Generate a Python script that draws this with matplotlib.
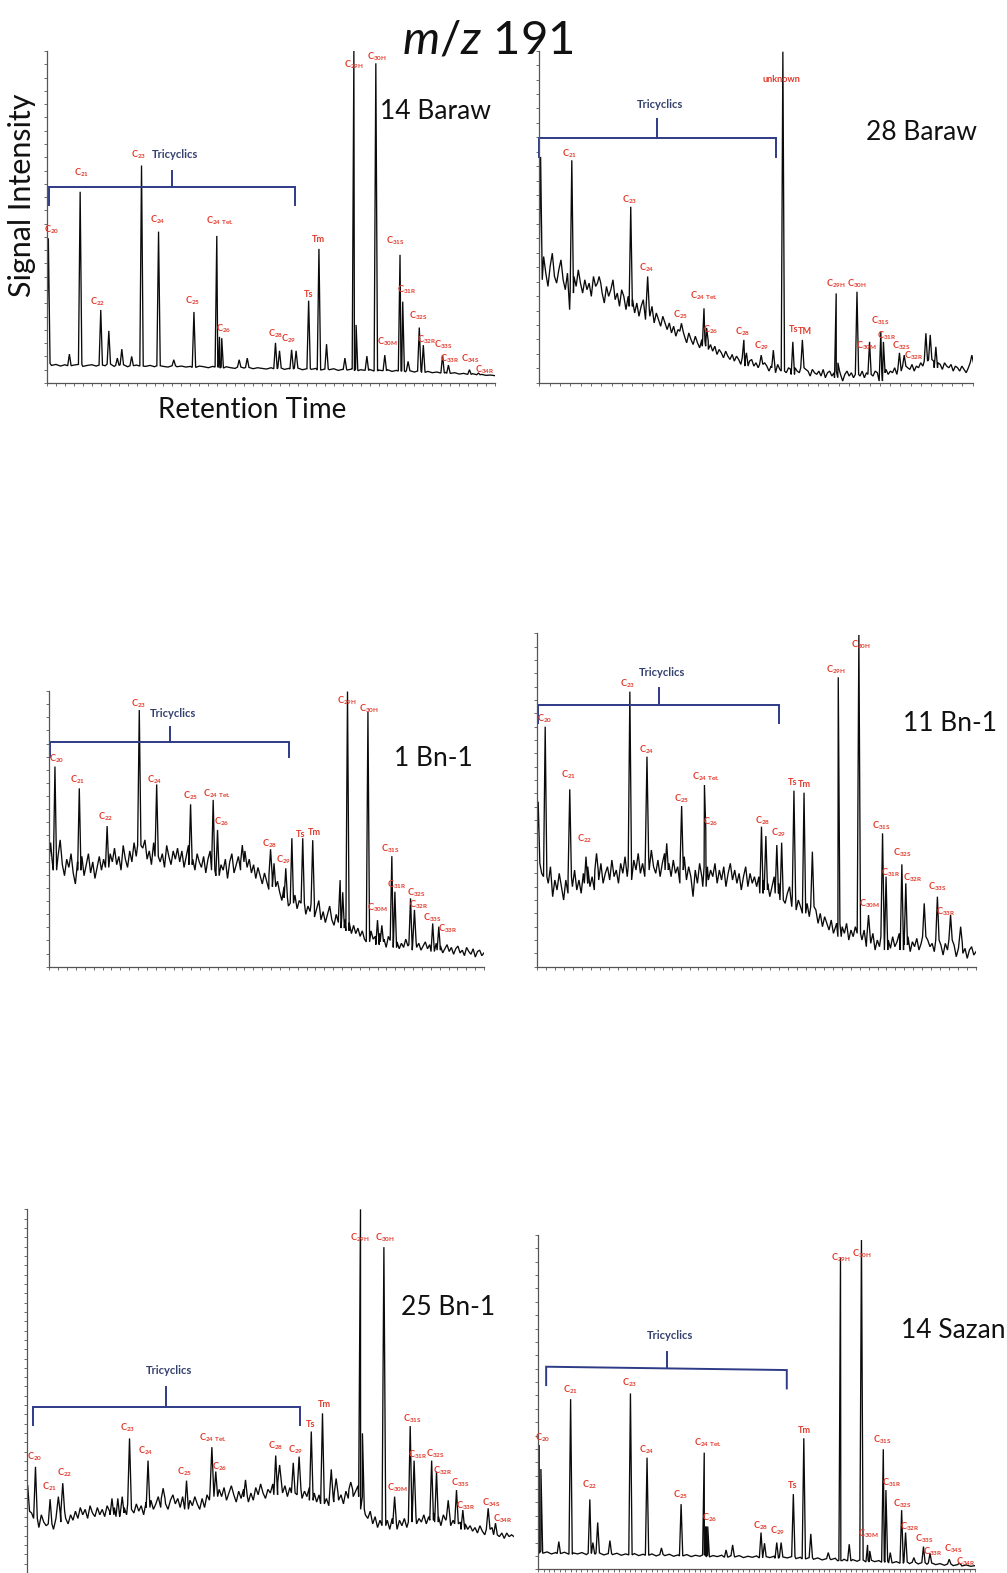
import numpy as np
import matplotlib
matplotlib.use("Agg")
import matplotlib.pyplot as plt

plt.rcParams['font.family'] = ['Lato', 'DejaVu Sans']
plt.rcParams['mathtext.fontset'] = 'custom'
plt.rcParams['mathtext.rm'] = 'Lato'
plt.rcParams['mathtext.it'] = 'Lato:italic'
plt.rcParams['mathtext.bf'] = 'Lato:bold'

W, H = 1007, 1573

# ---------------- DATA (x: retention, 0-100 of axis; y: signal, 0-100 of axis) ----------------
# Panel 1 : 14 Baraw
p1_names = ['C20', 'C21', 'C22', 'C23', 'C24', 'C25', 'C24 Tet.', 'C26', 'C28', 'C29', 'Ts', 'Tm',
            'C29H', 'C30H', 'C30M', 'C31S', 'C31R', 'C32S', 'C32R', 'C33S', 'C33R', 'C34S', 'C34R']
p1_rt = [0.3, 7.4, 12.0, 21.1, 24.9, 32.8, 37.9, 38.5, 51.0, 54.6, 58.4, 60.7,
         68.5, 73.4, 75.4, 78.8, 79.4, 83.1, 84.0, 88.3, 89.6, 94.3, 96.3]
p1_top = [43.6, 57.6, 22.0, 65.5, 45.6, 21.4, 44.3, 13.9, 12.1, 10.0, 24.8, 40.4,
          100, 96.3, 8.4, 38.6, 24.5, 16.7, 11.4, 8.4, 5.4, 4.0, 3.0]
p1_minor_rt = [5.0, 13.8, 15.7, 16.7, 18.9, 28.3, 39.0, 42.9, 44.7, 51.9, 55.6, 62.4, 66.5, 69.0, 71.4, 80.6]
p1_minor_top = [8.7, 15.7, 7.5, 10.2, 8.0, 7.0, 13.5, 7.0, 7.5, 9.7, 9.7, 11.7, 7.5, 17.5, 8.1, 6.5]
p1_base = [5.9, 5.3, 5.6, 5.1, 5.5, 5.2, 5.4, 5.6, 5.0, 5.3,
           5.5, 5.1, 5.4, 5.2, 5.7, 5.0, 5.3, 5.5, 4.9, 5.2,
           5.4, 5.1, 5.0, 5.3, 4.9, 5.2, 5.0, 4.8, 5.2, 4.9,
           5.1, 4.8, 5.0, 4.7, 5.1, 4.9, 4.6, 5.0, 4.8, 4.5,
           4.9, 4.6, 4.4, 4.8, 4.5, 4.7, 4.3, 4.6, 4.4, 4.2,
           4.6, 4.3, 4.5, 4.1, 4.4, 4.2, 4.5, 4.0, 4.3, 4.1,
           4.4, 3.9, 4.2, 4.0, 4.3, 3.8, 4.1, 3.9, 4.2, 3.7,
           4.0, 3.8, 4.1, 3.6, 3.9, 3.7, 4.0, 3.5, 3.8, 3.6,
           3.4, 3.7, 3.3, 3.6, 3.2, 3.5, 3.1, 3.3, 3.0, 3.2,
           2.9, 3.1, 2.7, 2.9, 2.6, 2.8, 2.5, 2.6, 2.3, 2.4, 2.2]

# Panel 2 : 28 Baraw
p2_names = ['C21', 'C23', 'C24', 'C25', 'C24 Tet.', 'C26', 'C28', 'C29', 'unknown', 'Ts', 'TM',
            'C29H', 'C30H', 'C30M', 'C31S', 'C31R', 'C32S', 'C32R']
p2_rt = [7.5, 21.1, 25.0, 32.8, 38.0, 38.6, 47.2, 51.2, 56.2, 58.5, 60.7,
         68.5, 73.3, 76.2, 78.8, 79.4, 83.1, 84.2]
p2_top = [67, 53, 32, 17.9, 22.4, 16.5, 12.9, 8.3, 99.7, 12.3, 12.9,
          26.9, 27.4, 12.3, 15.4, 12.3, 9.0, 8.3]
p2_minor_rt = [0.3, 13.8, 47.8, 54.0, 68.9, 89.2, 90.2, 91.5, 99.8]
p2_minor_top = [68, 32, 9, 9.8, 6, 14.9, 14.4, 10.8, 8.3]
p2_base = [36, 31, 38, 33, 29, 35, 39, 32, 30, 34, 37, 31, 28, 33, 22, 27, 32, 29, 34, 30,
           27, 31, 28, 30, 26, 32, 29, 25, 30, 27, 24, 29, 26, 28, 31, 25, 27, 23, 28, 26,
           22, 26, 23, 25, 21, 24, 20, 23, 25, 19, 22, 20, 23, 18, 21, 19, 17, 20, 18, 16,
           18, 15, 17, 14, 16, 13, 15.5, 14, 12, 15, 13, 11.5, 14, 12, 10.5, 13, 11, 12.5, 10, 11.5,
           9.5, 11, 8.5, 10, 9, 7.5, 9.5, 8, 7, 8.5, 6.5, 8, 7, 5.5, 7.5, 6, 5, 6.5, 7, 5,
           6, 4.5, 5.5, 4, 6, 5, 3.5, 5, 4.5, 3, 5.5, 4, 3.5, 5, 3, 4.5, 4, 2.5, 4.5, 3.5,
           3, 4.5, 2.5, 4, 3.5, 2, 4, 3, 2.5, 3.5, 2, 4, 1.5, 3, 3.5, 2, 3, 1.5, 3.5, 2.5,
           0.5, 2.5, 3.5, 2, 3, 1.5, 3.5, 2.5, 2, 3.5, 1.5, 3, 2.5, 4, 2, 3.5, 3, 1, 0.5, 3,
           4, 2.5, 3.5, 3, 4.5, 2.5, 4, 3.5, 5, 3, 4.5, 4, 5.5, 3.5, 5, 4.5, 6, 5, 6.5, 5.5,
           7, 5, 6.5, 4.5, 6, 5.5, 4, 6, 5, 4.5, 5.5, 3.5, 5, 4.5, 3.5, 5, 4, 3, 4.5, 3.5,
           6]

# Panel 3 : 1 Bn-1
p3_names = ['C20', 'C21', 'C22', 'C23', 'C24', 'C25', 'C24 Tet.', 'C26', 'C28', 'C29', 'Ts', 'Tm',
            'C29H', 'C30H', 'C30M', 'C31S', 'C31R', 'C32S', 'C32R', 'C33S', 'C33R']
p3_rt = [1.3, 6.9, 13.3, 20.7, 24.7, 32.5, 37.7, 38.7, 50.9, 55.8, 58.3, 60.6,
         68.6, 73.3, 75.5, 78.8, 79.5, 83.1, 84.0, 88.2, 89.6]
p3_top = [72.6, 64.7, 51.0, 93.1, 66.1, 58.9, 60.5, 49.6, 42.6, 46.6, 46.6, 45.9,
          99.8, 92.5, 16.9, 40.1, 27.2, 24.8, 20.6, 15.7, 14.5]
p3_minor_rt = [0.3, 44.4, 51.7, 54.4, 66.9, 67.5, 76.5]
p3_minor_top = [45, 44.1, 37.5, 35.7, 31.4, 27, 15]
p3_base = [44, 38, 42, 35, 40, 46, 37, 33, 39, 36, 41, 34, 30, 38, 35, 40, 33, 37, 41, 34,
           38, 32, 36, 40, 35, 39, 42, 36, 41, 38, 43, 37, 40, 35, 44, 39, 36, 42, 38, 45,
           40, 44, 38, 43, 46, 39, 42, 37, 45, 40, 43, 38, 41, 36, 44, 40, 37, 42, 39, 43,
           38, 42, 36, 40, 44, 37, 39, 35, 41, 38, 36, 40, 34, 39, 42, 35, 38, 33, 40, 37,
           35, 39, 32, 38, 41, 34, 37, 40, 35, 38, 42, 36, 39, 34, 37, 32, 36, 33, 30, 34,
           31, 28, 33, 29, 26, 31, 27, 24, 29, 25, 22, 27, 23, 26, 21, 24, 20, 23, 19, 22,
           20, 23, 18, 21, 24, 17, 20, 16, 19, 22, 17, 15, 19, 16, 18, 14, 17, 13, 16, 12,
           15, 12, 14, 11, 13, 10, 12, 9, 13, 10, 11, 8, 12, 9, 10, 7, 11, 8, 9.5, 7,
           9, 6.5, 8.5, 7, 10, 7.5, 8, 6, 9, 7, 8.5, 6, 7.5, 9, 6.5, 8, 5.5, 7, 8.5, 6,
           7.5, 5, 6.5, 8, 5.5, 7, 4.5, 6.5, 7.5, 5, 6, 4, 7, 5.5, 4.5, 6.5, 3.5, 5.5, 6, 4,
           5]

# Panel 4 : 11 Bn-1
p4_names = ['C20', 'C21', 'C22', 'C23', 'C24', 'C25', 'C24 Tet.', 'C26', 'C28', 'C29', 'Ts', 'Tm',
            'C29H', 'C30H', 'C30M', 'C31S', 'C31R', 'C32S', 'C32R', 'C33S', 'C33R']
p4_rt = [1.8, 7.4, 11.1, 21.1, 25.0, 32.9, 38.1, 38.4, 51.1, 55.7, 58.5, 60.8,
         68.6, 73.3, 75.5, 78.7, 79.5, 83.1, 84.0, 91.2, 94.2]
p4_top = [72, 53.2, 33, 82.5, 63, 48.2, 54.5, 41.5, 42, 37.2, 52.8, 52.2,
          86.8, 99.5, 15.5, 40, 27, 30.7, 25, 21, 15.5]
p4_minor_rt = [0.2, 13.5, 29.5, 52.1, 54.6, 62.7, 68.9, 88.2, 96.5]
p4_minor_top = [49.5, 34, 37, 39.2, 36.5, 34.5, 30.5, 19, 12]
p4_base = [31, 24, 28, 22, 27, 25, 30, 21, 26, 23, 28, 24, 20, 26, 22, 27, 24, 29, 23, 26,
           22, 28, 25, 30, 24, 27, 23, 29, 26, 31, 25, 28, 30, 26, 32, 27, 29, 25, 31, 28,
           33, 27, 30, 26, 32, 29, 34, 28, 31, 27, 33, 29, 35, 30, 28, 32, 27, 31, 34, 29,
           31, 27, 32, 28, 30, 25, 29, 33, 26, 30, 27, 21, 29, 25, 31, 27, 24, 30, 26, 29,
           27, 31, 25, 29, 26, 30, 24, 28, 31, 26, 29, 25, 28, 23, 27, 30, 24, 28, 25, 27,
           24, 27, 22, 26, 23, 25, 21, 24, 27, 22, 25, 20, 23, 19, 22, 24, 18, 21, 17, 20,
           18, 21, 16, 19, 15, 18, 14, 17, 13, 16, 12, 15, 13, 11, 14, 10, 12, 13, 9, 12,
           10, 13, 8, 11, 9, 12, 7, 10, 8, 11, 6, 9, 7, 10, 5, 8, 6, 9, 7, 5,
           8, 5.5, 9, 6, 7.5, 10, 5, 8, 6.5, 9, 4.5, 7.5, 6, 8.5, 5, 7, 9, 5.5, 8, 6,
           7, 4.5, 8, 5.5, 6.5, 3.5, 7, 5, 8, 4, 6.5, 3, 5.5, 7, 4, 5.5, 2.5, 5, 6, 3.5,
           4.5]

# Panel 5 : 25 Bn-1
p5_names = ['C20', 'C21', 'C22', 'C23', 'C24', 'C25', 'C24 Tet.', 'C26', 'C28', 'C29', 'Ts', 'Tm',
            'C29H', 'C30H', 'C30M', 'C31S', 'C31R', 'C32S', 'C32R', 'C33S', 'C33R', 'C34S', 'C34R']
p5_rt = [1.8, 4.8, 7.4, 21.1, 24.9, 32.8, 38.0, 38.8, 51.1, 55.9, 58.4, 60.7,
         68.5, 73.3, 75.5, 78.7, 79.5, 83.1, 84.1, 88.2, 89.5, 94.7, 96.2]
p5_top = [29.2, 20.3, 24.7, 37, 30.9, 25.4, 34.6, 27.9, 32.3, 32, 38.9, 43.9,
          100, 89.6, 21, 40.4, 30.9, 30.9, 27.9, 22.8, 17.3, 17.8, 13.7]
p5_minor_rt = [0.2, 6.5, 17.5, 18.7, 19.6, 28.0, 44.9, 51.9, 54.7, 62.5, 63.5, 66.5, 68.9, 86.5]
p5_minor_top = [24.2, 21, 20.5, 20.5, 21, 23.3, 25.6, 29.7, 30.3, 28.5, 26, 25, 38.4, 20]
p5_base = [17, 14, 16.5, 13, 15, 12.5, 16, 14, 13, 15.5, 13.5, 12, 15, 16.5, 14, 17, 15, 13.5, 16, 14.5,
           17, 15, 18, 16, 17.5, 15, 18.5, 16.5, 15.5, 18, 16, 17.5, 15.5, 18.5, 17, 16, 18, 15.5, 19, 16.5,
           18, 16, 19, 17.5, 16.5, 19, 17, 18.5, 16, 19.5, 18, 20, 17.5, 19, 21, 18, 20.5, 19, 17.5, 20,
           21.5, 19, 20.5, 18, 21, 19.5, 17.5, 20, 18.5, 21, 19, 17.5, 20.5, 18, 21.5, 20, 22.5, 19.5, 21, 23,
           21, 23.5, 20, 22, 24, 21.5, 19.5, 22.5, 20.5, 23, 21, 19.5, 22, 20, 23.5, 21.5, 24.5, 22, 20.5, 23,
           22, 24.5, 21.5, 23, 25, 22, 24, 21, 23.5, 22, 24, 21.5, 23, 20.5, 22.5, 21, 23.5, 20, 22, 19.5,
           21.5, 19, 22, 20.5, 18.5, 21, 19.5, 22, 20, 21.5, 19, 22.5, 20.5, 23, 21, 22.5, 24, 21, 17.5, 16,
           15, 17, 13.5, 15.5, 12.5, 14.5, 16, 13, 14.5, 12, 15, 13.5, 12, 14.5, 13, 15, 12.5, 14, 13, 15.5,
           13.5, 15, 14, 16, 13.5, 15.5, 14.5, 16.5, 14, 15.5, 13, 16, 14.5, 15, 13, 14.5, 13.5, 12.5, 14, 12,
           13.5, 12, 13, 11.5, 12.5, 11, 13, 11.5, 10.5, 12, 11, 12.5, 10.5, 11.5, 10, 11, 9.5, 11, 10, 10.5,
           10]

# Panel 6 : 14 Sazan
p6_names = ['C20', 'C21', 'C22', 'C23', 'C24', 'C25', 'C24 Tet.', 'C26', 'C28', 'C29', 'Ts', 'Tm',
            'C29H', 'C30H', 'C30M', 'C31S', 'C31R', 'C32S', 'C32R', 'C33S', 'C33R', 'C34S', 'C34R']
p6_rt = [0.2, 7.4, 11.8, 21.1, 24.9, 32.7, 38.0, 38.4, 51.0, 54.6, 58.4, 60.8,
         69.2, 74.0, 75.4, 79.0, 79.6, 83.2, 84.1, 88.2, 89.7, 94.1, 96.4]
p6_top = [37.2, 50.9, 20.9, 52.6, 33.4, 19.5, 34.9, 12.8, 11, 8, 22.5, 39.2,
          93.3, 98.5, 7.3, 35.9, 23.7, 17.7, 11, 6.8, 4.8, 3, 1.8]
p6_minor_rt = [0.6, 4.7, 12.5, 13.6, 16.4, 28.2, 38.8, 43.0, 44.5, 51.8, 55.6, 62.4, 66.4, 68.9, 71.2, 75.9, 80.6, 86.0]
p6_minor_top = [30, 8.3, 8, 14, 8.6, 6.4, 12.8, 5.8, 7.3, 7.8, 8, 10.6, 5, 17.2, 7.5, 5.5, 5, 3.5]
p6_base = [5.5, 4.8, 5.2, 4.6, 5.0, 4.7, 5.1, 4.5, 4.9, 4.6, 5.0,
           4.4, 4.8, 4.5, 4.9, 4.3, 4.7, 4.4, 4.8, 4.2, 4.6,
           4.3, 4.7, 4.1, 4.5, 4.2, 4.6, 4.0, 4.4, 4.1, 4.5,
           3.9, 4.3, 4.0, 4.4, 3.8, 4.2, 3.9, 4.3, 3.7, 4.1,
           3.8, 4.2, 3.6, 4.0, 3.7, 4.1, 3.5, 3.9, 3.6, 4.0,
           3.4, 3.8, 3.5, 3.9, 3.3, 3.7, 3.4, 3.8, 3.2, 3.6,
           3.1, 3.5, 3.0, 3.4, 2.8, 3.2, 2.9, 3.3, 2.6, 3.0,
           2.5, 2.9, 2.4, 2.8, 2.2, 2.7, 2.3, 2.6, 2.1, 2.5,
           1.9, 2.3, 1.8, 2.2, 1.7, 2.1, 1.6, 2.0, 1.5, 1.9,
           1.4, 1.7, 1.2, 1.6, 1.1, 1.4, 1.0, 1.3, 0.9, 1.1]

sample_names = ['14 Baraw', '28 Baraw', '1 Bn-1', '11 Bn-1', '25 Bn-1', '14 Sazan']

# ---------------- LAYOUT (pixels / axis units) ----------------
rects_px = [(47, 51, 495, 383), (539.3, 50.7, 972.7, 382.7),
            (49.3, 691, 484, 966.7), (537.3, 633.3, 976, 966.7),
            (26.7, 1209.3, 514, 1573), (538.3, 1235, 975, 1569.3)]
sample_pos_px = [(435, 111.7), (921.7, 132.7), (433, 759), (950, 723.3), (448.3, 1307.7), (953.3, 1330.7)]
# bracket: x0, x1, y_left, y_right, leg_drop, xc, tick_up, text_y
brackets = [(0.4, 55.4, 59.0, 59.0, 5.4, 27.9, 4.9, 68.7),
            (0.0, 54.6, 73.8, 73.8, 5.7, 27.1, 5.5, 83.9),
            (0.2, 55.2, 81.4, 81.4, 5.2, 27.8, 5.7, 91.9),
            (0.2, 55.2, 78.5, 78.5, 5.3, 27.8, 5.2, 88.3),
            (1.2, 56.0, 45.7, 45.7, 5.0, 28.6, 5.4, 55.6),
            (1.8, 56.9, 60.6, 59.6, 5.5, 29.4, 4.8, 69.8)]
label_xy = [
    [(1.1, 46.1), (7.8, 63.3), (11.2, 24.4), (20.5, 68.7), (24.6, 49.1), (32.6, 24.7), (38.6, 48.8),
     (39.5, 16.3), (51.1, 14.8), (54.0, 13.3), (58.3, 26.8), (60.7, 43.1), (68.5, 95.8), (73.7, 98.2),
     (75.9, 12.3), (77.7, 42.8), (80.4, 28.0), (83.0, 20.2), (84.8, 13.0), (88.4, 11.4), (89.8, 7.2),
     (94.4, 7.4), (97.8, 4.0)],
    [(6.9, 69.0), (20.9, 55.0), (24.8, 34.7), (32.5, 20.4), (38.0, 26.2), (39.5, 16.0), (46.9, 15.4),
     (51.2, 11.0), (55.9, 91.2), (58.6, 16.0), (61.3, 15.4), (68.5, 29.9), (73.2, 29.9), (75.5, 11.0),
     (78.8, 18.6), (80.2, 14.2), (83.5, 11.0), (86.4, 8.0)],
    [(1.7, 75.6), (6.5, 67.7), (13.0, 54.4), (20.5, 95.3), (24.3, 67.7), (32.5, 62.0), (38.5, 62.6),
     (39.6, 52.6), (50.8, 44.7), (53.8, 38.7), (57.9, 47.8), (61.0, 48.7), (68.4, 96.5), (73.5, 93.7),
     (75.5, 21.5), (78.4, 42.9), (79.9, 29.6), (84.4, 26.9), (84.9, 22.4), (88.2, 17.8), (91.7, 13.6)],
    [(1.7, 74.5), (7.1, 57.5), (10.7, 38.5), (20.6, 85.0), (24.9, 65.0), (32.8, 50.3), (38.4, 57.0),
     (39.5, 43.5), (51.3, 43.8), (55.1, 40.3), (58.1, 55.2), (61.0, 54.5), (68.1, 89.2), (73.8, 96.5),
     (75.8, 18.8), (78.5, 42.3), (80.5, 28.3), (83.2, 34.3), (85.6, 26.8), (91.3, 24.0), (93.2, 16.5)],
    [(1.7, 32.0), (4.6, 23.6), (7.7, 27.6), (20.7, 40.0), (24.5, 33.5), (32.5, 27.9), (38.3, 37.3),
     (39.6, 29.2), (51.0, 34.9), (55.1, 33.8), (58.2, 40.7), (61.2, 46.2), (68.4, 92.3), (73.6, 92.3),
     (76.1, 23.5), (79.1, 42.5), (80.3, 32.6), (83.9, 32.9), (85.4, 28.1), (88.9, 24.8), (90.2, 18.5),
     (95.4, 19.4), (97.6, 14.8)],
    [(1.0, 39.5), (7.4, 53.8), (11.8, 25.2), (21.0, 55.8), (24.7, 35.9), (32.7, 22.4), (38.9, 37.9),
     (39.3, 15.3), (51.0, 13.0), (54.7, 11.6), (58.2, 25.0), (60.9, 41.4), (69.2, 93.3), (74.0, 94.3),
     (75.6, 10.6), (78.8, 38.9), (80.9, 26.0), (83.4, 19.7), (85.1, 12.8), (88.5, 9.0), (90.4, 5.3),
     (95.0, 6.0), (98.0, 2.4)],
]
n_xticks = [51, 43, 50, 50, 0, 82]
n_yticks = [26, 24, 22, 26, 40, 26]

panels = [
    (p1_base, p1_names, p1_rt, p1_top, p1_minor_rt, p1_minor_top),
    (p2_base, p2_names, p2_rt, p2_top, p2_minor_rt, p2_minor_top),
    (p3_base, p3_names, p3_rt, p3_top, p3_minor_rt, p3_minor_top),
    (p4_base, p4_names, p4_rt, p4_top, p4_minor_rt, p4_minor_top),
    (p5_base, p5_names, p5_rt, p5_top, p5_minor_rt, p5_minor_top),
    (p6_base, p6_names, p6_rt, p6_top, p6_minor_rt, p6_minor_top),
]

RED = '#e23a2c'
NAVY = '#2e3b86'
NAVY_T = '#34406e'


def build_trace(base, rts, tops, w=0.38):
    xs = np.linspace(0, 100, len(base))
    base = np.asarray(base, float)
    keep = np.ones(len(xs), bool)
    for r in rts:
        keep &= np.abs(xs - r) > w
    px = list(xs[keep])
    py = list(base[keep])
    for r, t in zip(rts, tops):
        b = base[np.argmin(np.abs(xs - r))]
        px += [r - w, r, r + w]
        py += [b, t, b]
    order = np.argsort(px, kind='stable')
    return np.array(px)[order], np.array(py)[order]


def fmt(name):
    if name.startswith('C'):
        parts = name[1:].split(' ')
        sub = r'\ '.join(r'\mathbf{' + p + '}' for p in parts)
        return r'$\mathbf{C}_{' + sub + '}$'
    return name


fig = plt.figure(figsize=(W / 100, H / 100), dpi=100)

for i, (base, names, rts, tops, mrt, mtop) in enumerate(panels):
    l, t, r, b = rects_px[i]
    ax = fig.add_axes([l / W, 1 - b / H, (r - l) / W, (b - t) / H])
    ax.set_xlim(0, 100)
    ax.set_ylim(0, 100)
    ax.patch.set_alpha(0)
    for s in ['top', 'right']:
        ax.spines[s].set_visible(False)
    for s in ['left', 'bottom']:
        ax.spines[s].set_color('#555555')
        ax.spines[s].set_linewidth(0.9)
    if n_xticks[i]:
        ax.set_xticks(np.linspace(0, 100, n_xticks[i]))
    else:
        ax.set_xticks([])
        ax.spines['bottom'].set_visible(False)
    ax.set_yticks(np.linspace(0, 100, n_yticks[i]))
    ax.set_xticklabels([])
    ax.set_yticklabels([])
    ax.tick_params(axis='both', direction='out', length=2.5, width=0.6, colors='#555555')

    all_rt = list(rts) + list(mrt)
    all_top = list(tops) + list(mtop)
    x, y = build_trace(base, all_rt, all_top)
    ax.plot(x, y, color='#0a0a0a', lw=0.95, clip_on=True, solid_joinstyle='miter')

    for name, (lx, ly) in zip(names, label_xy[i]):
        ax.text(lx, ly, fmt(name), color=RED, fontsize=6.6, ha='center', va='center',
                fontweight='bold', clip_on=False)

    x0, x1, yl, yr, drop, xc, up, ty = brackets[i]
    ym = yl + (yr - yl) * (xc - x0) / (x1 - x0)
    ax.plot([x0, x0, x1, x1], [yl - drop, yl, yr, yr - drop], color=NAVY, lw=1.4, clip_on=False,
            solid_joinstyle='miter')
    ax.plot([xc, xc], [ym, ym + up], color=NAVY, lw=1.4, clip_on=False)
    ax.text(xc + 0.7, ty, 'Tricyclics', color=NAVY_T, fontsize=8, fontweight='bold',
            ha='center', va='center')

    sx, sy = sample_pos_px[i]
    fig.text(sx / W, 1 - sy / H, sample_names[i], fontsize=19, ha='center', va='center', color='#111111')

fig.text(488 / W, 1 - 40 / H, r'$\mathit{m/z}$ 191', fontsize=34, ha='center', va='center', color='#111111')
fig.text(22 / W, 1 - 195 / H, 'Signal Intensity', fontsize=22, rotation=90, ha='center', va='center',
         color='#111111')
fig.text(252 / W, 1 - 410 / H, 'Retention Time', fontsize=20, ha='center', va='center', color='#111111')

fig.savefig('out.png', dpi=100)
